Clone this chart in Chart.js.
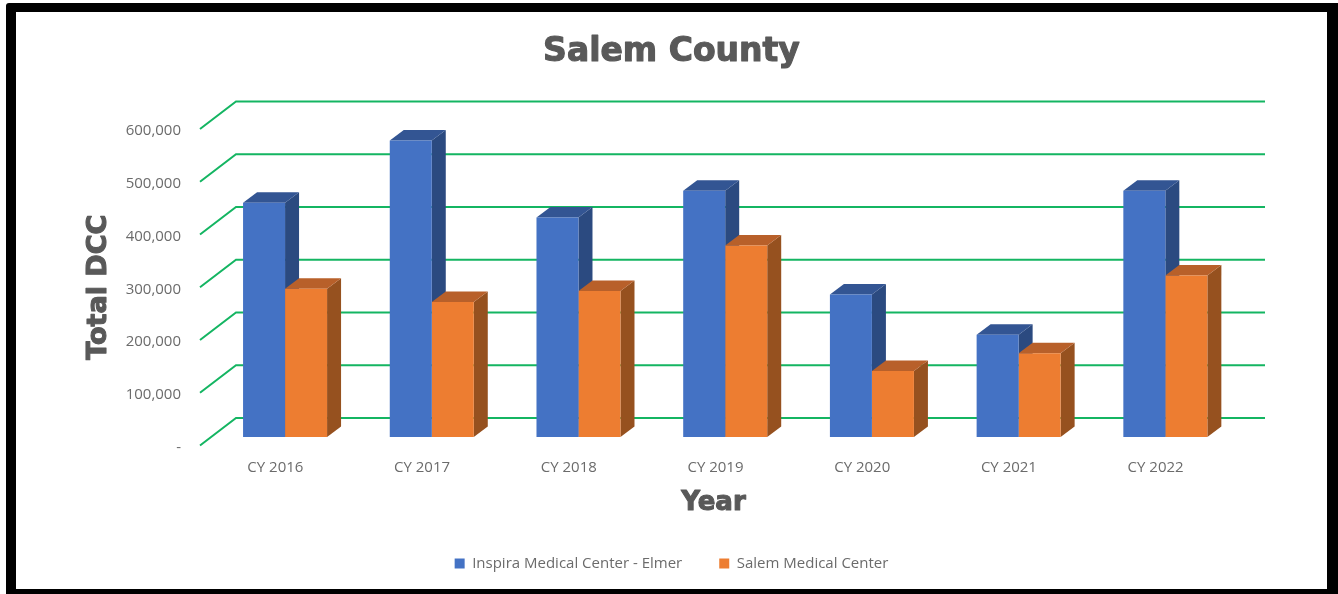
<!DOCTYPE html>
<html>
<head>
<meta charset="utf-8">
<title>Salem County</title>
<script src="https://cdn.jsdelivr.net/npm/chart.js@4"></script>
<style>
    html, body { margin: 0; padding: 0; background: #fff; overflow: hidden; }
    #frame {
        position: absolute; left: 6px; top: 3px; width: 1311px; height: 577px;
        border-style: solid; border-color: #000; border-width: 9px 11px 5px 10px;
        box-sizing: content-box; border-radius: 3px 0 0 0;
    }
    #salemChart { position: absolute; left: 0; top: 0; }
</style>
</head>
<body>
<div id="frame"><canvas id="salemChart" width="1311" height="577"></canvas></div>
<script>
const years = ["CY 2016", "CY 2017", "CY 2018", "CY 2019", "CY 2020", "CY 2021", "CY 2022"];
const elmer = [444000, 562000, 416000, 467000, 270000, 194000, 467000];
const salem = [281000, 256000, 277000, 363000, 125000, 159000, 306000];
const yTickLabels = ["-", "100,000", "200,000", "300,000", "400,000", "500,000", "600,000"];

const greyText = "#6b6b6b";
const headText = "#595959";
const headFont = "'DejaVu Sans'";
const bodyFont = "'Open Sans'";

// the fake depth of Excel's 3-D column chart
const wallDx = 36, wallDy = 27.5;   // floor front edge -> back wall
const barDx = 11.7, barDy = 8.5;    // floor front edge -> bar front
const sideDx = 14, sideDy = 10.5;   // bar front -> bar back
const faces = [
    { top: "#335593", side: "#2b4a80" },
    { top: "#b8602a", side: "#96511f" }
];

function box3d(ctx, bar, colors) {
    const left = bar.x - bar.width / 2 + barDx;
    const right = bar.x + bar.width / 2 + barDx;
    const top = bar.y - barDy;
    const bottom = bar.base - barDy;

    ctx.fillStyle = colors.side;
    ctx.beginPath();
    ctx.moveTo(right, top);
    ctx.lineTo(right + sideDx, top - sideDy);
    ctx.lineTo(right + sideDx, bottom - sideDy);
    ctx.lineTo(right, bottom);
    ctx.closePath();
    ctx.fill();

    ctx.fillStyle = colors.top;
    ctx.beginPath();
    ctx.moveTo(left, top);
    ctx.lineTo(left + sideDx, top - sideDy);
    ctx.lineTo(right + sideDx, top - sideDy);
    ctx.lineTo(right, top);
    ctx.closePath();
    ctx.fill();
}

// the reference headings are heavier than any installed bold, so outline them
function thicken(ctx, text, size, x, y, angle) {
    ctx.save();
    ctx.translate(x, y);
    ctx.rotate(angle);
    ctx.font = "bold " + size + "px " + headFont;
    ctx.textAlign = "center";
    ctx.textBaseline = "middle";
    ctx.lineJoin = "round";
    ctx.lineWidth = 1.1;
    ctx.strokeStyle = headText;
    ctx.strokeText(text, 0, 0);
    ctx.restore();
}

const depthPlugin = {
    id: "depth",
    beforeDatasetsDraw(chart) {
        const { ctx, chartArea, scales } = chart;
        ctx.save();
        ctx.strokeStyle = "#14b562";
        ctx.lineWidth = 2;
        scales.y.ticks.forEach((tick) => {
            const y = scales.y.getPixelForValue(tick.value);
            ctx.beginPath();
            ctx.moveTo(chartArea.left, y);
            ctx.lineTo(chartArea.left + wallDx, y - wallDy);
            ctx.lineTo(chartArea.right + wallDx + 2, y - wallDy);
            ctx.stroke();
        });
        chart.data.datasets.forEach((ds, i) => {
            chart.getDatasetMeta(i).data.forEach((bar) => box3d(ctx, bar, faces[i]));
        });
        ctx.restore();

        // the library's own bars become the front faces
        ctx.save();
        ctx.translate(barDx, -barDy);
    },
    afterDatasetsDraw(chart) {
        chart.ctx.restore();
    },
    afterDraw(chart) {
        const { ctx, chartArea, scales, titleBlock } = chart;
        const midX = (chartArea.left + chartArea.right) / 2;
        const midY = (chartArea.top + chartArea.bottom) / 2;
        thicken(ctx, titleBlock.options.text, 33, (titleBlock.left + titleBlock.right) / 2, titleBlock.top + 21 + 19.8, 0);
        thicken(ctx, scales.x.options.title.text, 26, midX, scales.x.bottom - 15.6, 0);
        thicken(ctx, scales.y.options.title.text, 27, scales.y.left + 2 + 16.2, midY, -Math.PI / 2);
    }
};

new Chart(document.getElementById("salemChart").getContext("2d"), {
    type: "bar",
    data: {
        labels: years,
        datasets: [
            { label: "Inspira Medical Center - Elmer", data: elmer, backgroundColor: "#4472c4" },
            { label: "Salem Medical Center", data: salem, backgroundColor: "#ed7d31" }
        ]
    },
    options: {
        responsive: false,
        animation: false,
        layout: { padding: { left: 65, right: 65, top: 0, bottom: 8 } },
        datasets: { bar: { categoryPercentage: 84 / 146.7, barPercentage: 1 } },
        plugins: {
            tooltip: { enabled: false },
            title: {
                display: true,
                text: "Salem County",
                color: headText,
                font: { family: headFont, size: 33, weight: "bold" },
                padding: { top: 21, bottom: 56.4 }
            },
            legend: {
                position: "bottom",
                labels: {
                    color: greyText,
                    font: { family: bodyFont, size: 15 },
                    boxWidth: 10,
                    boxHeight: 10,
                    padding: 37
                }
            }
        },
        scales: {
            x: {
                grid: { display: false },
                border: { display: false },
                ticks: { color: greyText, font: { family: bodyFont, size: 15 }, padding: 5, labelOffset: 2, maxRotation: 0 },
                title: {
                    display: true,
                    text: "Year",
                    color: headText,
                    font: { family: headFont, size: 26, weight: "bold" },
                    padding: 0
                },
                afterFit(scale) { scale.height = 73.5; }
            },
            y: {
                min: 0,
                max: 600000,
                grid: { display: false, drawTicks: false },
                border: { display: false },
                ticks: {
                    stepSize: 100000,
                    color: greyText,
                    font: { family: bodyFont, size: 15 },
                    padding: 19,
                    labelOffset: 2,
                    callback: (value, i) => yTickLabels[i]
                },
                title: {
                    display: true,
                    text: "Total DCC",
                    color: headText,
                    font: { family: headFont, size: 27, weight: "bold" },
                    padding: { top: 2, bottom: 0 }
                },
                afterFit(scale) { scale.width = 119; }
            },
            // empty right axis, only keeps the title and legend centred on the frame
            yRight: {
                position: "right",
                grid: { display: false },
                border: { display: false },
                ticks: { display: false },
                afterFit(scale) { scale.width = 35; }
            }
        }
    },
    plugins: [depthPlugin]
});
</script>
</body>
</html>
